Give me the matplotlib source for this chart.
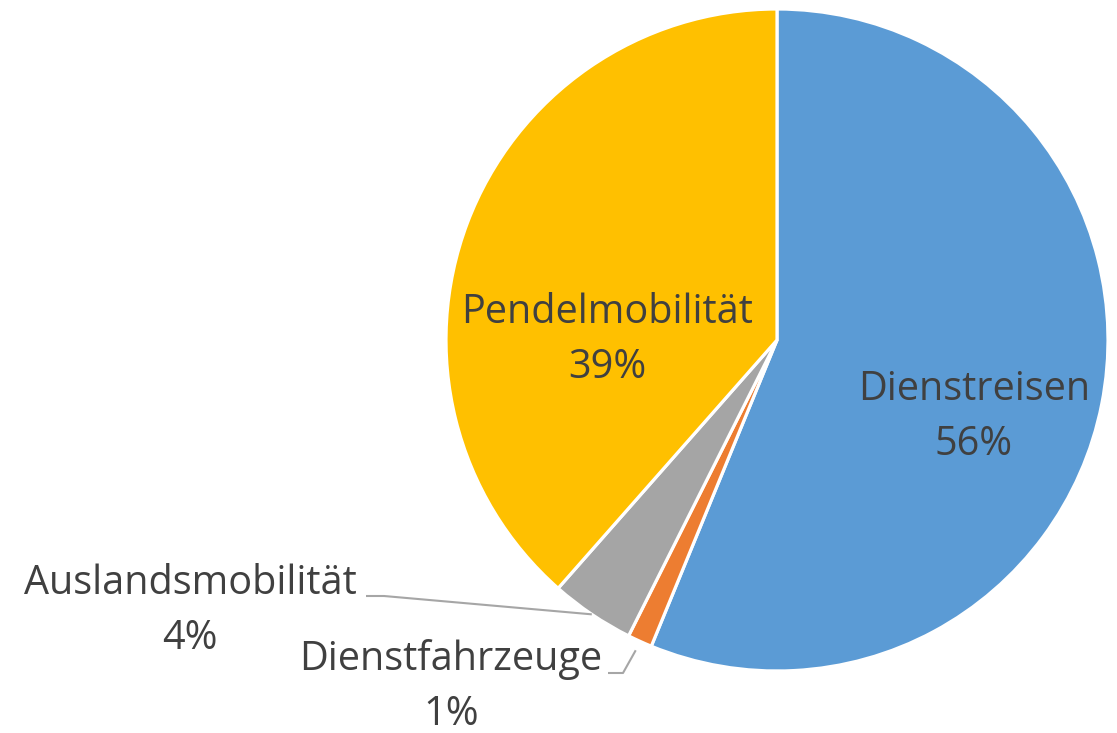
import matplotlib
matplotlib.use("Agg")
import matplotlib.pyplot as plt
import numpy as np

categories = ["Dienstreisen", "Dienstfahrzeuge", "Auslandsmobilität", "Pendelmobilität"]
values = [56.2, 1.2, 4.1, 38.5]
pct_labels = ["56%", "1%", "4%", "39%"]
colors = ["#5B9BD5", "#ED7D31", "#A5A5A5", "#FFC000"]

plt.rcParams['font.family'] = ['Open Sans', 'DejaVu Sans']

W, H = 1117, 733
fig = plt.figure(figsize=(W / 100, H / 100), dpi=100)
ax = fig.add_axes([0, 0, 1, 1])
cx, cy, R = 777, 340, 331  # pie centre / radius in pixels


def px(x, y):
    return ((x - cx) / R, (cy - y) / R)


wedges, _ = ax.pie(values, colors=colors, startangle=90, counterclock=False,
                   radius=1.0, center=(0, 0),
                   wedgeprops=dict(edgecolor="white", linewidth=2.3))

ax.set_xlim(px(0, 0)[0], px(W, 0)[0])
ax.set_ylim(px(0, H)[1], px(0, 0)[1])
ax.set_aspect('auto')
ax.axis('off')

txtc = "#404040"
fs = 28.5
ls = 1.47
label_pos = {
    "Dienstreisen": (974, 417),
    "Pendelmobilität": (607, 340),
    "Auslandsmobilität": (190, 611),
    "Dienstfahrzeuge": (451, 687),
}
for cat, p in zip(categories, pct_labels):
    x, y = px(*label_pos[cat])
    ax.text(x, y, f"{cat}\n{p}", ha="center", va="center", fontsize=fs,
            color=txtc, linespacing=ls)

# leader lines
lc = "#A6A6A6"
def mid_point(w, r):
    a = np.deg2rad((w.theta1 + w.theta2) / 2)
    return r * np.cos(a), r * np.sin(a)

gx, gy = mid_point(wedges[2], 1.0)
s1 = px(366, 596)
s2 = px(384, 596)
ax.plot([s1[0], s2[0], gx], [s1[1], s2[1], gy], color=lc, lw=1.5,
        solid_capstyle='butt')

ox, oy = mid_point(wedges[1], 1.03)
t1 = px(608, 673)
t2 = px(623, 673)
ax.plot([t1[0], t2[0], ox], [t1[1], t2[1], oy], color=lc, lw=1.5,
        solid_capstyle='butt')

fig.savefig("out.png", dpi=100, facecolor="white")
